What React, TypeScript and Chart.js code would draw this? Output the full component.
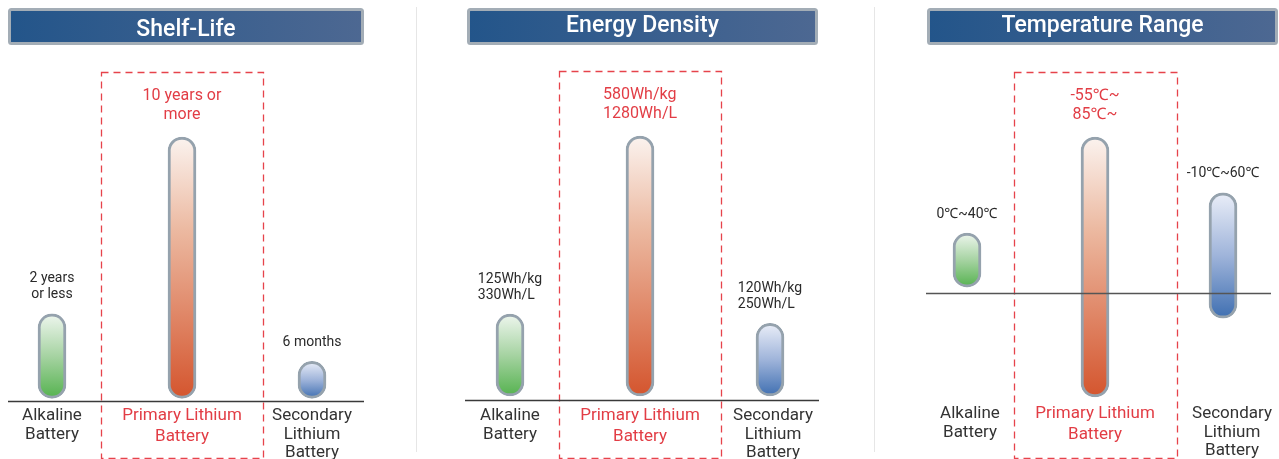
import React, { useEffect, useRef } from "react";
import { Chart, registerables } from "chart.js";

Chart.register(...registerables);

// ---------------- data ----------------
const categories = ["Alkaline Battery", "Primary Lithium Battery", "Secondary Lithium Battery"];
const categoryLines = [["Alkaline", "Battery"], ["Primary Lithium", "Battery"], ["Secondary", "Lithium", "Battery"]];
const panelTitles = ["Shelf-Life", "Energy Density", "Temperature Range"];

// bar extents [low, high] as drawn in the picture (relative units per panel)
const shelfLifeBars = [[1, 33], [1, 100], [1, 15]];
const shelfLifeLabels = [["2 years", "or less"], ["10 years or", "more"], ["6 months"]];

const energyDensityBars = [[1.5, 32.5], [1.5, 100], [1.5, 29]];
const energyDensityLabels = [["125Wh/kg", "330Wh/L"], ["580Wh/kg", "1280Wh/L"], ["120Wh/kg", "250Wh/L"]];

// temperature panel in °C (bars drawn as in the picture)
const temperatureBars = [[3, 32.5], [-57, 85], [-14, 54.5]];
const temperatureLabels = [["0℃~40℃"], ["-55℃~", "85℃~"], ["-10℃~60℃"]];

const panelBars = [shelfLifeBars, energyDensityBars, temperatureBars];
const panelLabels = [shelfLifeLabels, energyDensityLabels, temperatureLabels];

// ---------------- styles / layout ----------------
const FONT = 'Roboto, "Noto Sans", "DejaVu Sans", sans-serif';
const RED = "#e23d45";
const DARK = "#2a2a2a";
const CAT = "#333333";
const BORDER = "#95a2ad";

const gradientStops: [number, string][][] = [
  [[0, "#eef6ee"], [0.5, "#a6d3a2"], [1, "#55b24f"]],
  [[0, "#fbf3ef"], [0.35, "#ecbaa2"], [1, "#d4552e"]],
  [[0, "#eaeef8"], [0.5, "#9fb4da"], [1, "#3f6fb1"]],
];
const solidColors = ["#55b24f", "#d4552e", "#3f6fb1"];

type Layout = {
  canvasLeft: number; canvasWidth: number;
  areaLeft: number; areaRight: number; areaTop: number; areaBottom: number;
  yMin: number; yMax: number;
  banner: [number, number]; titleBaseline: number;
  axis: [number, number]; axisColor: string; axisWidth: number;
  boxHalf: number; boxTop: number; boxBottom: number;
  catY: number; catDx: number[]; labelAlign: "center" | "left";
};

const layouts: Layout[] = [
  {
    canvasLeft: -20, canvasWidth: 440, areaLeft: -13, areaRight: 377, areaTop: 137, areaBottom: 401,
    yMin: 0, yMax: 100, banner: [8, 364], titleBaseline: 36, axis: [8, 364], axisColor: "#3a3a3a", axisWidth: 1.3,
    boxHalf: 81, boxTop: 72, boxBottom: 458, catY: 416, catDx: [0, 0, 0], labelAlign: "center",
  },
  {
    canvasLeft: 420, canvasWidth: 460, areaLeft: 445, areaRight: 835, areaTop: 136, areaBottom: 400,
    yMin: 0, yMax: 100, banner: [467, 818], titleBaseline: 32, axis: [465, 819], axisColor: "#3a3a3a", axisWidth: 1.3,
    boxHalf: 81, boxTop: 71, boxBottom: 458, catY: 416, catDx: [0, 0, 3], labelAlign: "left",
  },
  {
    canvasLeft: 880, canvasWidth: 420, areaLeft: 903, areaRight: 1287, areaTop: 137, areaBottom: 397,
    yMin: -57, yMax: 85, banner: [927, 1278], titleBaseline: 32, axis: [926, 1271], axisColor: "#555555", axisWidth: 1.6,
    boxHalf: 81.5, boxTop: 72, boxBottom: 458, catY: 414, catDx: [3, 0, 9], labelAlign: "center",
  },
];

function roundRect(ctx: CanvasRenderingContext2D, x: number, y: number, w: number, h: number, r: number) {
  ctx.beginPath();
  ctx.moveTo(x + r, y);
  ctx.lineTo(x + w - r, y);
  ctx.quadraticCurveTo(x + w, y, x + w, y + r);
  ctx.lineTo(x + w, y + h - r);
  ctx.quadraticCurveTo(x + w, y + h, x + w - r, y + h);
  ctx.lineTo(x + r, y + h);
  ctx.quadraticCurveTo(x, y + h, x, y + h - r);
  ctx.lineTo(x, y + r);
  ctx.quadraticCurveTo(x, y, x + r, y);
  ctx.closePath();
}

function makeDecor(idx: number) {
  const p = layouts[idx];
  const ox = p.canvasLeft;
  return {
    id: "decor" + idx,
    beforeDatasetsDraw(chart: any) {
      const ctx: CanvasRenderingContext2D = chart.ctx;
      ctx.save();
      // banner
      const bx = p.banner[0] - ox + 1.5;
      const bw = p.banner[1] - p.banner[0] - 3;
      const by = 9.5, bh = 34;
      const g = ctx.createLinearGradient(bx, 0, bx + bw, 0);
      g.addColorStop(0, "#23558a");
      g.addColorStop(1, "#4d6892");
      roundRect(ctx, bx, by, bw, bh, 2);
      ctx.fillStyle = g;
      ctx.fill();
      ctx.lineWidth = 3;
      ctx.strokeStyle = "#a3adb6";
      ctx.stroke();
      ctx.fillStyle = "#ffffff";
      ctx.font = `500 23px ${FONT}`;
      ctx.textAlign = "center";
      ctx.textBaseline = "alphabetic";
      ctx.fillText(panelTitles[idx], (p.banner[0] + p.banner[1]) / 2 - ox, p.titleBaseline);

      // dashed highlight box around the primary lithium category
      const mid = chart.scales.x.getPixelForValue(1);
      ctx.setLineDash([7, 5]);
      ctx.lineWidth = 1.3;
      ctx.strokeStyle = "#e6434b";
      ctx.strokeRect(Math.round(mid - p.boxHalf) + 0.5, p.boxTop + 0.5, Math.round(p.boxHalf * 2), p.boxBottom - p.boxTop);
      ctx.restore();
    },
    afterDatasetsDraw(chart: any) {
      const ctx: CanvasRenderingContext2D = chart.ctx;
      const ys = chart.scales.y;
      const xs = chart.scales.x;
      ctx.save();
      // baseline (value 0)
      const y0 = Math.round(ys.getPixelForValue(0)) + 0.5;
      ctx.beginPath();
      ctx.moveTo(p.axis[0] - ox, y0);
      ctx.lineTo(p.axis[1] - ox, y0);
      ctx.lineWidth = p.axisWidth;
      ctx.strokeStyle = p.axisColor;
      ctx.stroke();

      // value labels above bars
      const meta = chart.getDatasetMeta(0);
      const labels = panelLabels[idx];
      meta.data.forEach((el: any, i: number) => {
        const lines = labels[i];
        const isMid = i === 1;
        const size = isMid ? 16 : 14;
        const lh = isMid ? 19 : 16;
        ctx.font = `400 ${size}px ${FONT}`;
        ctx.fillStyle = isMid ? RED : DARK;
        ctx.textBaseline = "middle";
        const top = Math.min(el.y, el.base);
        const lastY = top - (isMid ? 22 : 19);
        const maxW = Math.max(...lines.map((l) => ctx.measureText(l).width));
        lines.forEach((l, k) => {
          const yy = lastY - (lines.length - 1 - k) * lh;
          if (p.labelAlign === "left") {
            ctx.textAlign = "left";
            ctx.fillText(l, el.x - maxW / 2, yy);
          } else {
            ctx.textAlign = "center";
            ctx.fillText(l, el.x, yy);
          }
        });
      });

      // category labels
      categoryLines.forEach((lines, i) => {
        const x = xs.getPixelForValue(i) + p.catDx[i];
        const isMid = i === 1;
        ctx.font = `400 17px ${FONT}`;
        ctx.fillStyle = isMid ? RED : CAT;
        ctx.textAlign = "center";
        ctx.textBaseline = "middle";
        const lh = isMid ? 21 : 18.5;
        lines.forEach((l, k) => ctx.fillText(l, x, p.catY + k * lh));
      });
      ctx.restore();
    },
  };
}

function makeConfig(idx: number): any {
  const p = layouts[idx];
  return {
    type: "bar",
    data: {
      labels: categories,
      datasets: [
        {
          data: panelBars[idx],
          backgroundColor: (c: any) => {
            const i = c.dataIndex;
            if (i === undefined) return solidColors[0];
            const chart = c.chart;
            if (!chart.chartArea || !c.raw) return solidColors[i];
            const ys = chart.scales.y;
            const v = c.raw as number[];
            const t = ys.getPixelForValue(v[1]);
            const b = ys.getPixelForValue(v[0]);
            const g = chart.ctx.createLinearGradient(0, t, 0, b);
            gradientStops[i].forEach(([o, col]) => g.addColorStop(o, col));
            return g;
          },
          borderColor: BORDER,
          borderWidth: 3,
          borderRadius: 14,
          borderSkipped: false,
          barThickness: 28,
          clip: false,
        },
      ],
    },
    options: {
      animation: false,
      responsive: false,
      maintainAspectRatio: false,
      events: [],
      layout: {
        padding: {
          left: p.areaLeft - p.canvasLeft,
          right: p.canvasLeft + p.canvasWidth - p.areaRight,
          top: p.areaTop,
          bottom: 459 - p.areaBottom,
        },
      },
      scales: {
        x: { display: false },
        y: { display: false, min: p.yMin, max: p.yMax },
      },
      plugins: { legend: { display: false }, tooltip: { enabled: false } },
    },
    plugins: [makeDecor(idx)],
  };
}

export default function App() {
  const canvases = useRef<(HTMLCanvasElement | null)[]>([]);
  useEffect(() => {
    const charts = layouts.map((_, i) => new Chart(canvases.current[i] as HTMLCanvasElement, makeConfig(i)));
    return () => charts.forEach((c) => c.destroy());
  }, []);
  return (
    <div
      style={{
        position: "fixed", left: 0, top: 0, width: 1279, height: 459,
        overflow: "hidden", background: "#ffffff",
      }}
    >
      {layouts.map((p, i) => (
        <canvas
          key={i}
          ref={(el) => { canvases.current[i] = el; }}
          width={p.canvasWidth}
          height={459}
          style={{ position: "absolute", left: p.canvasLeft, top: 0, width: p.canvasWidth, height: 459 }}
        />
      ))}
      <div style={{ position: "absolute", left: 416, top: 7, width: 1, height: 445, background: "#e6e6e6" }} />
      <div style={{ position: "absolute", left: 874, top: 7, width: 1, height: 445, background: "#e6e6e6" }} />
    </div>
  );
}
